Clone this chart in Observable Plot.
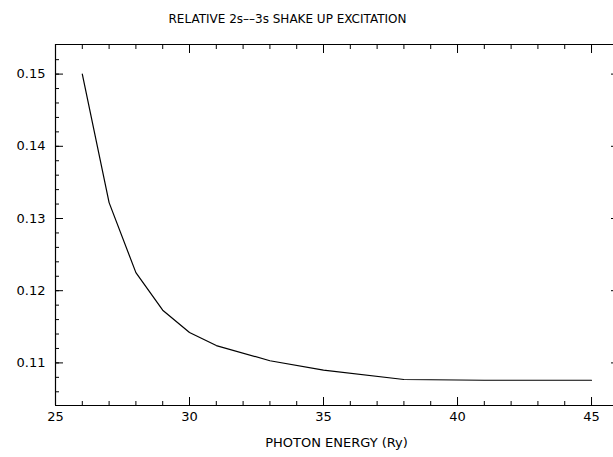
<!DOCTYPE html>
<html>
<head>
<meta charset="utf-8">
<script src="https://cdn.jsdelivr.net/npm/d3@7"></script>
<script src="https://cdn.jsdelivr.net/npm/@observablehq/plot@0.6"></script>
<style>
  html, body { margin: 0; padding: 0; background: #fff; }
  #chart { width: 613px; height: 457px; }
  svg { font-family: "DejaVu Sans", sans-serif; }
</style>
</head>
<body>
<div id="chart"></div>
<script>
// Data
const energy = [26, 27, 28, 29, 30, 31, 33, 35, 38, 41, 45];
const shakeUp = [0.1500, 0.1322, 0.1225, 0.1173, 0.1142, 0.1124, 0.1103, 0.1090, 0.1077, 0.1076, 0.1076];

const xDomain = [25, 45.82];
const yDomain = [0.1041, 0.1541];
const xMajor = [25, 30, 35, 40, 45];
const xMinor = d3.range(25, 46, 1);
const yMajor = [0.11, 0.12, 0.13, 0.14, 0.15];
const yMinor = [0.106, 0.108, 0.110, 0.112, 0.114, 0.116, 0.118, 0.120, 0.122, 0.124, 0.126, 0.128, 0.130, 0.132, 0.134, 0.136, 0.138, 0.140, 0.142, 0.144, 0.146, 0.148, 0.150, 0.152];
const titleText = "RELATIVE 2s\u2013\u20133s SHAKE UP EXCITATION";
const xLabel = "PHOTON ENERGY (Ry)";

const data = energy.map((e, i) => ({e, v: shakeUp[i]}));

const chart = Plot.plot({
  width: 613,
  height: 457,
  marginLeft: 55,
  marginRight: 0,
  marginTop: 44,
  marginBottom: 52,
  x: {domain: xDomain},
  y: {domain: yDomain},
  style: {fontFamily: "DejaVu Sans, sans-serif", background: "white", color: "black"},
  marks: [
    // frame lines (top, left, bottom)
    Plot.ruleY([yDomain[1]], {stroke: "black", strokeWidth: 1.2}),
    Plot.ruleY([yDomain[0]], {stroke: "black", strokeWidth: 1.2}),
    Plot.ruleX([xDomain[0]], {stroke: "black", strokeWidth: 1.2}),
    // bottom ticks (inward)
    Plot.axisX(xMinor, {anchor: "bottom", tickSize: 4, dy: -4, text: null, stroke: "black", label: null}),
    Plot.axisX(xMajor, {anchor: "bottom", tickSize: 8, dy: -8, text: null, stroke: "black", label: null}),
    Plot.axisX(xMajor, {anchor: "bottom", tickSize: 0, tickPadding: 6, fontSize: 13, tickFormat: d => String(d), label: null}),
    // top ticks (inward)
    Plot.axisX(xMinor, {anchor: "top", tickSize: 4, dy: 4, text: null, stroke: "black", label: null}),
    Plot.axisX(xMajor, {anchor: "top", tickSize: 8, dy: 8, text: null, stroke: "black", label: null}),
    // left ticks (inward)
    Plot.axisY(yMinor, {anchor: "left", tickSize: 4, dx: 4, text: null, stroke: "black", label: null}),
    Plot.axisY(yMajor, {anchor: "left", tickSize: 8, dx: 8, text: null, stroke: "black", label: null}),
    Plot.axisY(yMajor, {anchor: "left", tickSize: 0, tickPadding: 10, fontSize: 13, tickFormat: d => d.toFixed(2), label: null}),
    // right ticks (inward, majors only)
    Plot.axisY(yMajor, {anchor: "right", tickSize: 3, dx: -3, text: null, stroke: "black", label: null}),
    // curve
    Plot.line(data, {x: "e", y: "v", stroke: "black", strokeWidth: 1.2}),
    // titles
    Plot.text([titleText], {frameAnchor: "top", dy: -30, dx: -47, fontSize: 12, fill: "black"}),
    Plot.text([xLabel], {frameAnchor: "bottom", dy: 41, dx: 2, fontSize: 13, fill: "black"})
  ]
});
document.getElementById("chart").appendChild(chart);
</script>
</body>
</html>
